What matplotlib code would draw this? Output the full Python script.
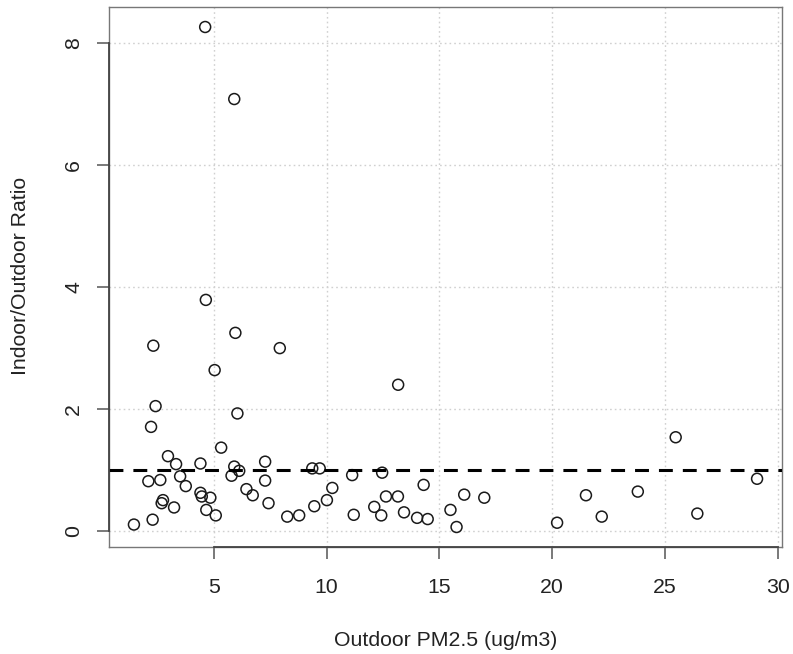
import matplotlib
matplotlib.use("Agg")
import matplotlib.pyplot as plt
import numpy as np

# Outdoor PM2.5 concentration (ug/m3) and indoor/outdoor ratio per home
outdoor_pm25 = [
    4.61, 5.90, 4.64, 5.95, 2.31, 7.92, 5.03, 13.17, 2.41, 6.04,
    2.21, 5.32, 2.96, 3.32, 4.40, 7.27, 5.90, 6.12, 5.78, 9.36,
    9.69, 11.13, 12.46, 3.50, 2.09, 2.62, 3.75, 7.27, 6.44, 6.72,
    10.25, 14.30, 4.40, 4.46, 4.84, 2.74, 2.68, 10.01, 12.63, 13.16,
    3.23, 7.42, 9.45, 12.11, 4.66, 5.08, 8.25, 8.78, 11.20, 12.42,
    13.43, 14.01, 14.48, 2.28, 1.45, 25.48, 29.09, 15.49, 15.76, 16.10,
    16.99, 20.22, 21.50, 22.20, 23.80, 26.44,
]
io_ratio = [
    8.26, 7.08, 3.79, 3.25, 3.04, 3.00, 2.64, 2.40, 2.05, 1.93,
    1.71, 1.37, 1.23, 1.10, 1.11, 1.14, 1.06, 0.99, 0.91, 1.03,
    1.03, 0.92, 0.96, 0.90, 0.82, 0.84, 0.74, 0.83, 0.69, 0.59,
    0.71, 0.76, 0.63, 0.57, 0.55, 0.51, 0.46, 0.51, 0.57, 0.57,
    0.39, 0.46, 0.41, 0.40, 0.35, 0.26, 0.24, 0.26, 0.27, 0.26,
    0.31, 0.22, 0.20, 0.19, 0.11, 1.54, 0.86, 0.35, 0.07, 0.60,
    0.55, 0.14, 0.59, 0.24, 0.65, 0.29,
]
x_ticks = [5, 10, 15, 20, 25, 30]
y_ticks = [0, 2, 4, 6, 8]
reference_ratio = 1.0

plt.rcParams["font.family"] = ["Liberation Sans", "DejaVu Sans"]
plt.rcParams["lines.scale_dashes"] = False


def padded(values, frac=0.04):
    lo, hi = float(np.min(values)), float(np.max(values))
    pad = frac * (hi - lo)
    return lo - pad, hi + pad


W, H = 793, 654
fig = plt.figure(figsize=(W / 100, H / 100), dpi=100)
L, R, T, B = 109, 782, 7, 547
ax = fig.add_axes([L / W, 1 - B / H, (R - L) / W, (B - T) / H])

text_col = "#222222"
fs = 15.3

ax.scatter(outdoor_pm25, io_ratio, s=62, facecolors="none",
           edgecolors="#1a1a1a", linewidths=1.1, zorder=3)
ax.set_xlim(*padded(outdoor_pm25))
ax.set_ylim(*padded(io_ratio))

ax.set_xticks(x_ticks)
ax.set_yticks(y_ticks)

# dotted light-gray grid at the tick positions
for xv in x_ticks:
    ax.axvline(xv, color="#d0d0d0", lw=1.0, linestyle=(0, (1.2, 2.2)), zorder=1)
for yv in y_ticks:
    ax.axhline(yv, color="#d0d0d0", lw=1.0, linestyle=(0, (1.2, 2.2)), zorder=1)

# reference line at ratio = 1
ax.axhline(reference_ratio, color="black", lw=2.2, dashes=(10, 7.2), zorder=4)

for sp in ax.spines.values():
    sp.set_color("#777777")
    sp.set_linewidth(1.0)

# axis lines spanning the first to last tick
ax.plot([x_ticks[0], x_ticks[-1]], [0, 0], transform=ax.get_xaxis_transform(),
        color="#444444", lw=1.3, clip_on=False, zorder=5, scalex=False, scaley=False)
ax.plot([0, 0], [y_ticks[0], y_ticks[-1]], transform=ax.get_yaxis_transform(),
        color="#444444", lw=1.3, clip_on=False, zorder=5, scalex=False, scaley=False)

ax.tick_params(axis="both", direction="out", length=8.6, width=1.1,
               color="#555555", labelsize=fs, labelcolor=text_col)
ax.tick_params(axis="x", pad=13.8)
ax.tick_params(axis="y", pad=10)
for lab in ax.get_yticklabels():
    lab.set_rotation(90)
    lab.set_va("center")
    lab.set_ha("right")

fig.text((L + R) / 2 / W, 1 - 640 / H, "Outdoor PM2.5 (ug/m3)", ha="center",
         va="center", fontsize=fs, color=text_col)
fig.text(21 / W, 1 - 276 / H, "Indoor/Outdoor Ratio", ha="center",
         va="center", rotation=90, fontsize=fs, color=text_col)

fig.savefig("out.png", dpi=100, facecolor="white")
